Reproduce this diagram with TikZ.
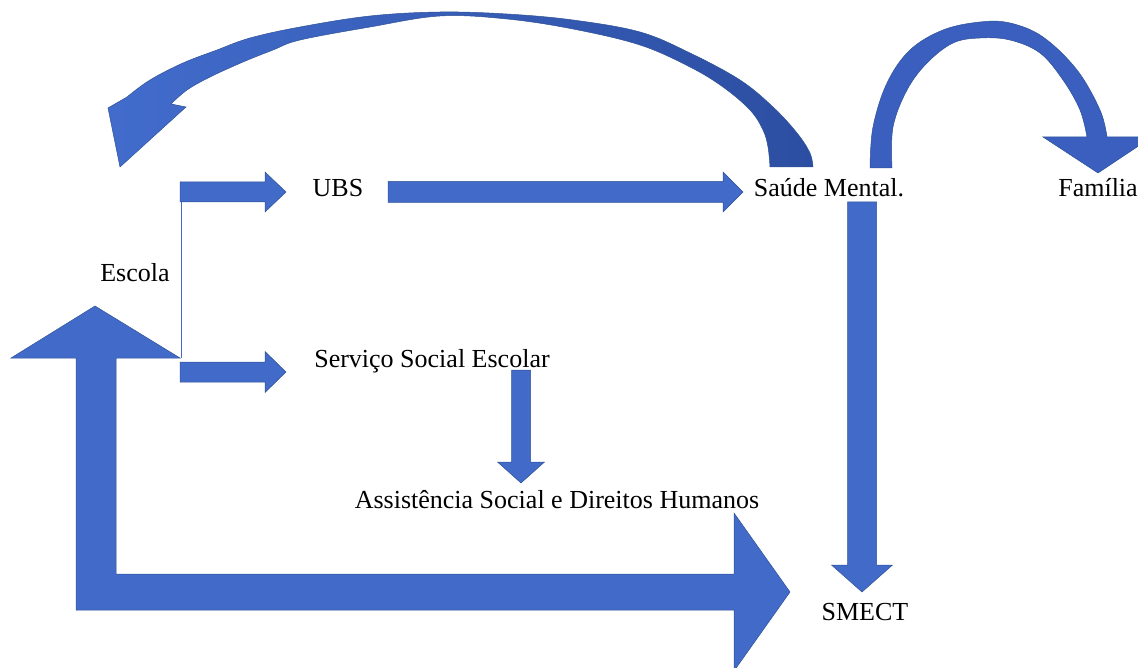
\documentclass[tikz,border=0pt]{standalone}
\usepackage{fontspec}
\setmainfont{Liberation Serif}
\usetikzlibrary{calc}

\definecolor{arrowblue}{RGB}{66,106,200}
\definecolor{arrowedge}{RGB}{47,82,150}
\definecolor{curveblue}{RGB}{58,95,190}
\definecolor{curvelight}{RGB}{66,108,204}
\definecolor{curvedark}{RGB}{44,78,162}

\tikzset{
  lbl/.style={font=\fontsize{26}{30}\selectfont, text=black, anchor=base, inner sep=0pt},
  arrowbody/.style={fill=arrowblue, draw=arrowedge, line width=0.5pt, line join=miter},
  curvebody/.style={fill=curveblue, draw=arrowedge, line width=0.5pt},
  link/.style={draw=arrowblue, line width=1pt}
}

% straight block arrow: tail, tip, half shaft width, half head width, head length
\newcommand\blockarrow[5]{%
  \path ($(#2)!#5!(#1)$) coordinate (hb);
  \filldraw[arrowbody]
    ($(#1)!#3!90:(#2)$) -- ($(hb)!#3!90:(#2)$) -- ($(hb)!#4!90:(#2)$) -- (#2)
    -- ($(hb)!#4!-90:(#2)$) -- ($(hb)!#3!-90:(#2)$) -- ($(#1)!#3!-90:(#2)$) -- cycle;
}

\begin{document}
\begin{tikzpicture}[x=1pt, y=-1pt]
\useasboundingbox (0,0) rectangle (1138,668);

% labels
\node[lbl] (escola)  at (135,282) {Escola};
\node[lbl] (ubs)     at (338,197) {UBS};
\node[lbl] (saude)   at (829,197) {Saúde Mental.};
\node[lbl] (familia) at (1098,197) {Família};
\node[lbl] (servico) at (432,367) {Serviço Social Escolar};
\node[lbl] (assist)  at (557,508) {Assistência Social e Direitos Humanos};
\node[lbl] (smect)   at (865,620) {SMECT};

% arrow end points
\coordinate (ubsTail) at (180,192);  \coordinate (ubsTip) at (286,192);
\coordinate (sseTail) at (180,372);  \coordinate (sseTip) at (286,372);
\coordinate (smTail)  at (388,192);  \coordinate (smTip)  at (743,192);
\coordinate (asTail)  at (521,370);  \coordinate (asTip)  at (521,483);
\coordinate (scTail)  at (862,202);  \coordinate (scTip)  at (862,592);
\coordinate (branchTop) at (181,182); \coordinate (branchBot) at (181,358);

% thin branch line from Escola
\draw[link] (branchTop) -- (branchBot);

% straight block arrows
\blockarrow{ubsTail}{ubsTip}{10pt}{20pt}{21pt}
\blockarrow{sseTail}{sseTip}{10pt}{20.5pt}{21pt}
\blockarrow{smTail}{smTip}{10.5pt}{20pt}{20pt}
\blockarrow{asTail}{asTip}{9.5pt}{23.5pt}{21pt}
\blockarrow{scTail}{scTip}{14.5pt}{30.5pt}{27pt}

% large bent arrow: up to Escola and right to SMECT
\filldraw[arrowbody]
  (76,610) -- (76,358) -- (11,358) -- (95,306) -- (180,358) -- (116,358)
  -- (116,574) -- (734,574) -- (734,513) -- (790,592) -- (734,671)
  -- (734,610) -- cycle;

% curved arrow from Saúde Mental back to Escola
\shadedraw[left color=curvelight, right color=curvedark, draw=arrowedge, line width=0.5pt]
  (813,167) -- plot[smooth, tension=0.6] coordinates {(813,167) (810,153) (797,133) (773,107) (740,80) (690,53) (640,32) (573,20) (507,14) (440,12) (370,16) (300,27) (250,38) (217,50) (183,63) (150,80) (127,97)}
  -- (108,108) -- (120,167) -- (186,107) -- (171,104)
  -- plot[smooth, tension=0.6] coordinates {(171,104) (187,90) (210,77) (243,62) (273,50) (300,40) (370,27) (440,16) (507,19) (573,29) (640,45) (690,67) (723,87) (750,110) (763,130) (768,147) (770,167)}
  -- cycle;

% curved arrow from Saúde Mental to Família
\filldraw[curvebody]
  (870,168) -- plot[smooth, tension=0.6] coordinates {(870,168) (873,127) (887,83) (910,50) (943,30) (980,22) (1010,23) (1043,37) (1077,70) (1100,110) (1107,137)}
  -- (1152,137) -- (1098,173) -- (1043,137) -- (1087,137)
  -- plot[smooth, tension=0.6] coordinates {(1087,137) (1080,110) (1063,80) (1040,53) (1010,40) (980,38) (953,43) (927,63) (907,90) (893,127) (892,168)}
  -- cycle;
\end{tikzpicture}
\end{document}
